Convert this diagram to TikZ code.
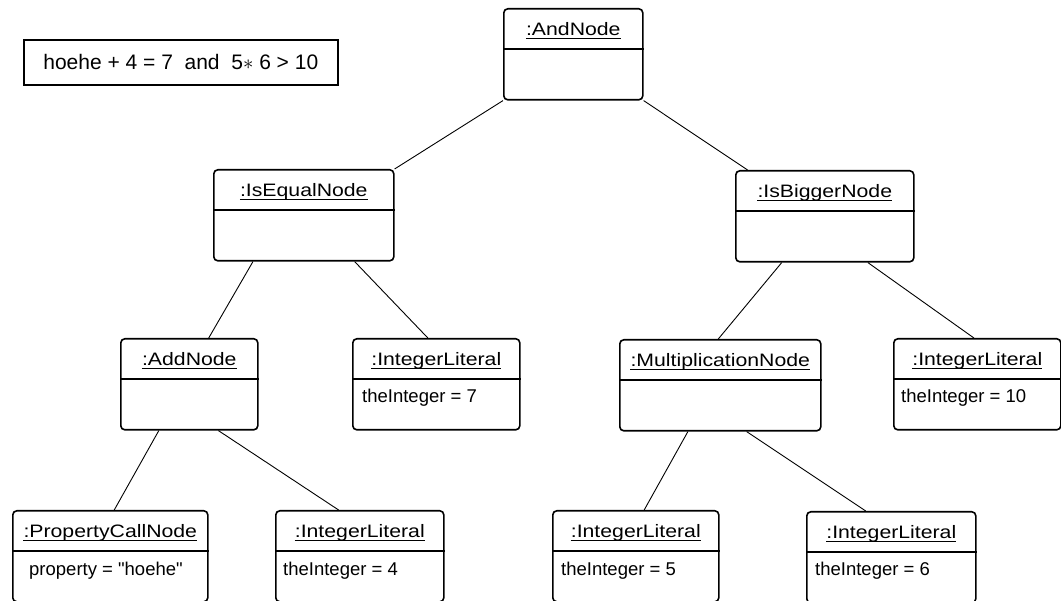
\documentclass[tikz,border=0pt]{standalone}
\usepackage{fontspec}
\setmainfont{Liberation Sans}
\newfontfamily\titlefont[FakeStretch=1.18]{Liberation Sans}
\usetikzlibrary{calc}

\begin{document}
\begin{tikzpicture}[x=1pt,y=-1pt,
    objbox/.style={draw,line width=1.6pt,rounded corners=4pt,minimum height=91pt,inner sep=0pt,anchor=north west},
    objtitle/.style={anchor=base,inner sep=0pt,font=\titlefont\fontsize{18}{21}\selectfont},
    objattr/.style={anchor=base west,inner sep=0pt,font=\fontsize{18.5}{21}\selectfont},
    link/.style={line width=0.9pt}]
    \useasboundingbox (0,0) rectangle (1061,601);

    \node[draw,line width=1.6pt,minimum width=314pt,minimum height=45pt,inner sep=0pt,anchor=north west,
          font=\fontsize{21}{24}\selectfont] (expr) at (23,39) {hoehe + 4 = 7\ \ and\ \ 5$\ast$ 6 > 10};

    % objects: name/left/top/width/title/attribute/indent
    \foreach \nm/\x/\y/\bw/\ttl/\att/\ind in {
        and/503/8/139/{:AndNode}/{}/10,
        eq/213/169/180/{:IsEqualNode}/{}/10,
        big/735/170/178/{:IsBiggerNode}/{}/10,
        add/120/338/137/{:AddNode}/{}/10,
        int7/352/338/167/{:IntegerLiteral}/{theInteger = 7}/10,
        mul/619/339/201/{:MultiplicationNode}/{}/10,
        int10/893/338/167/{:IntegerLiteral}/{theInteger = 10}/8,
        prop/12/510/195/{:PropertyCallNode}/{property = \textquotedbl hoehe\textquotedbl}/17,
        int4/275/510/168/{:IntegerLiteral}/{theInteger = 4}/8,
        int5/552/510/166/{:IntegerLiteral}/{theInteger = 5}/9,
        int6/806/511/169/{:IntegerLiteral}/{theInteger = 6}/9}{
      \node[objbox,minimum width=\bw pt] (\nm) at (\x,\y) {};
      \draw[line width=1.6pt] ([yshift=-41pt]\nm.north west) -- ([yshift=-41pt]\nm.north east);
      \node[objtitle] (\nm-title) at ([yshift=-27.5pt]\nm.north) {\ttl};
      \draw[line width=1.3pt] ([yshift=-3pt]\nm-title.base west) -- ([yshift=-3pt]\nm-title.base east);
      \node[objattr] (\nm-attr) at ([xshift=\ind pt,yshift=-65pt]\nm.north west) {\att};
    }

    % links: parent/position on its bottom/child/position on its top
    \foreach \pa/\pf/\ch/\cf in {
        and/0/eq/1, and/1/big/0.07,
        eq/0.22/add/0.64, eq/0.78/int7/0.45,
        big/0.26/mul/0.49, big/0.74/int10/0.48,
        add/0.28/prop/0.52, add/0.71/int4/0.375,
        mul/0.34/int5/0.55, mul/0.63/int6/0.35}
      \draw[link] ($(\pa.south west)!\pf!(\pa.south east)$) -- ($(\ch.north west)!\cf!(\ch.north east)$);
\end{tikzpicture}
\end{document}
